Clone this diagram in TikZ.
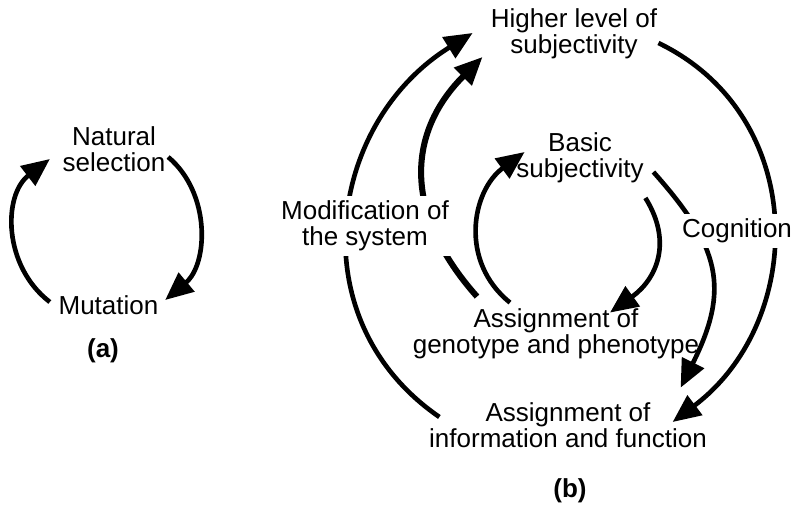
\documentclass[tikz,border=0pt]{standalone}
\usepackage{fontspec}
\setmainfont{Liberation Sans}
\usetikzlibrary{arrows.meta,backgrounds}

\begin{document}
\begin{tikzpicture}[x=0.025cm, y=-0.025cm,
  every node/.style={align=center, inner sep=1.25mm, font=\fontsize{18.5}{18.5}\selectfont},
  gap/.style={fill=white},
  tag/.style={font=\fontsize{18.5}{18.5}\selectfont\bfseries},
  cyc/.style={line width=3.3pt, -{Triangle[length=7mm,width=6mm]}},
  fat/.style={cyc, line width=4.3pt}]

% Two feedback cycles: (a) evolution, (b) levels of subjectivity

\useasboundingbox (0,0) rectangle (795,506);

\node (nat) at (114,149) {Natural\\selection};
\node (mut) at (108.5,305.5) {Mutation};
\node[tag] (a) at (103,351) {(a)};

\node (hi) at (574,34) {Higher level of\\subjectivity};
\node (bas) at (580,158) {Basic\\subjectivity};
\node[gap] (mod) at (365,226) {Modification of\\the system};
\node[gap] (cog) at (737,231) {Cognition};
\node (gen) at (556,334) {Assignment of\\genotype and phenotype};
\node (inf) at (568,425.5) {Assignment of\\information and function};
\node[tag] (b) at (570,491) {(b)};

\begin{scope}[on background layer]
\draw[cyc] ([shift={(-3.5,-3.5)}]mut.west) .. controls +(-47,-36) and +(-47,36) .. ([shift={(-7.5,10)}]nat.west);
\draw[cyc] ([shift={(-2.5,8)}]nat.east) .. controls +(43,36) and +(43,-36) .. ([shift={(1.5,-5.5)}]mut.east);

\draw[cyc] ([shift={(15.5,-8.5)}]inf.west) .. controls +(-141,-97) and +(-145,90) .. ([shift={(-13,-1)}]hi.west);
\draw[cyc] ([shift={(-4,9)}]hi.east) .. controls +(151,73) and +(134,-101) .. ([shift={(-39.5,-3.5)}]inf.east);
\draw[cyc] ([shift={(-46,-1)}]gen.north) .. controls +(-51,-41) and +(-53,39) .. ([shift={(13.5,-6)}]bas.west);
\draw[cyc] ([shift={(-3.5,9.5)}]bas.south east) .. controls +(28,45) and +(46,-33) .. ([shift={(54,9)}]gen.north);
\draw[fat] ([shift={(-79,-7)}]gen.north) .. controls +(-73,-82) and +(-77,77) .. ([shift={(-3,-7.5)}]hi.south west);
\draw[cyc] ([shift={(4.5,14)}]bas.east) .. controls +(67,75) and +(49.5,-99) .. ([shift={(-31.5,-10)}]inf.north east);
\end{scope}

\end{tikzpicture}
\end{document}
